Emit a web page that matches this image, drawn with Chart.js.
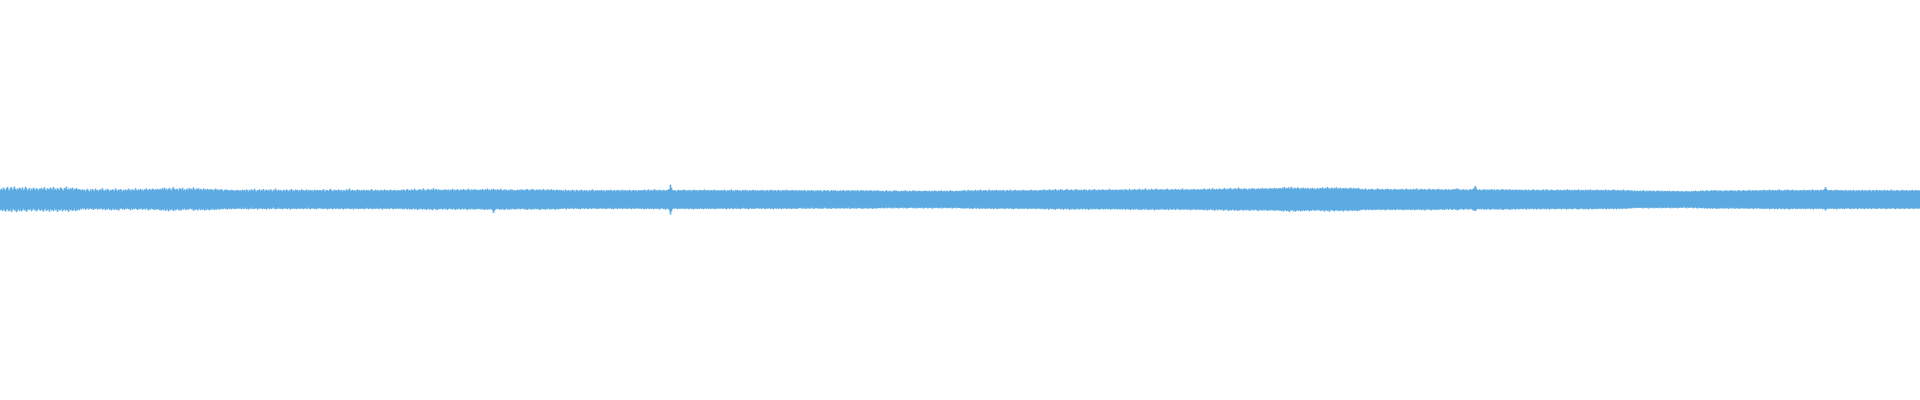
<!DOCTYPE html>
<html>
<head>
<meta charset="utf-8">
<style>
html,body{margin:0;padding:0;background:#ffffff;overflow:hidden;}
#wrap{width:1920px;height:400px;}
canvas{display:block;}
</style>
<script src="https://cdn.jsdelivr.net/npm/chart.js@4/dist/chart.umd.min.js"></script>
</head>
<body>
<div id="wrap"><canvas id="c" width="1920" height="400"></canvas></div>
<script>
// Waveform peaks (upper and lower envelope, amplitude in thousandths of full scale), one per pixel column
const peakHigh = [
47,53,45,58,50,44,55,61,49,42,56,60,46,52,63,51,44,54,48,57,53,47,59,45,50,62,54,43,49,56,41,52,47,58,51,45,55,49,44,53,
50,57,46,52,60,48,43,55,51,47,58,53,45,61,49,52,44,56,50,46,59,54,48,42,57,51,63,47,53,45,55,50,58,44,52,49,56,46,51,48,
48,41,50,44,47,38,46,52,43,37,49,42,51,45,40,53,44,47,39,46,50,43,55,45,41,48,44,52,47,39,46,43,50,45,42,54,46,40,48,44,
51,45,38,47,43,49,41,46,53,44,48,40,50,46,43,55,47,42,49,45,52,44,48,41,50,47,54,46,43,51,48,45,53,49,44,50,47,52,46,49,
52,45,55,49,58,46,53,44,51,57,48,43,54,60,50,47,52,49,42,55,51,46,57,44,50,41,49,53,45,56,48,52,47,59,50,44,53,48,55,46,
51,49,43,54,47,50,45,52,48,44,51,46,49,42,47,53,45,50,43,48,45,51,44,40,47,45,49,42,46,44,41,48,43,46,39,45,42,47,44,41,
45,39,48,43,46,40,49,44,37,47,42,50,41,45,52,43,38,46,44,49,40,47,43,51,39,45,48,42,46,40,50,44,37,47,43,53,44,41,48,42,
46,43,39,47,45,41,49,44,38,46,43,51,42,45,40,48,44,47,39,45,42,50,43,46,41,44,49,40,46,43,47,42,45,38,48,44,42,47,43,45,
46,41,44,50,43,38,47,45,40,46,52,42,44,39,48,43,46,41,49,44,42,47,38,45,44,40,50,43,46,53,44,41,47,42,45,39,44,49,43,46,
42,45,40,48,44,41,47,43,46,39,45,51,43,44,40,48,42,46,44,38,47,43,45,41,49,44,42,46,40,45,48,43,44,41,47,45,39,46,43,44,
43,47,42,49,45,40,47,51,43,46,41,49,46,43,53,45,42,47,44,50,45,48,43,54,46,41,48,45,52,46,43,50,46,55,44,48,51,43,49,46,
44,48,42,47,45,50,43,46,49,41,47,45,52,44,48,43,46,50,45,42,49,46,44,51,47,43,48,45,53,46,42,49,47,44,50,46,48,43,47,45,
48,44,51,46,42,50,46,53,44,48,41,50,46,52,45,48,43,50,46,44,52,47,42,46,49,44,48,41,46,43,50,45,48,42,46,41,45,48,43,47,
45,50,44,47,42,49,46,51,45,43,48,46,52,44,47,41,49,46,45,50,43,47,44,51,46,42,48,45,49,44,46,50,43,47,45,41,48,46,44,47,
43,46,40,45,38,48,43,41,46,39,44,42,48,40,45,37,47,43,39,45,41,48,43,39,46,41,44,43,38,46,41,45,49,43,39,45,41,46,42,44,
42,47,40,44,43,38,46,42,45,41,48,43,40,44,46,39,43,47,42,45,40,44,48,41,43,46,39,45,42,47,43,40,44,46,41,45,43,39,46,43,
45,41,46,43,48,44,39,46,49,42,44,47,41,45,50,43,46,40,44,48,42,45,39,47,44,41,46,43,49,52,72,57,46,42,45,43,39,44,47,42,
46,41,44,49,43,46,40,45,42,47,44,38,46,43,48,41,45,44,40,47,43,46,42,44,49,41,45,43,47,40,44,46,42,45,48,43,41,46,44,43,
43,46,41,44,48,42,39,45,41,46,43,49,40,44,38,46,43,47,41,44,43,39,46,44,41,48,42,44,38,46,43,41,47,44,42,46,39,45,41,43,
45,41,47,43,40,44,42,46,39,45,43,48,41,44,42,46,40,43,47,41,44,39,46,43,45,41,48,42,44,40,45,43,47,41,44,42,46,39,43,45,
42,45,40,43,47,41,38,45,42,44,39,46,41,44,38,43,41,46,40,43,45,41,37,43,46,40,42,45,43,38,41,46,40,44,42,45,38,43,40,42,
44,40,43,46,41,39,44,42,45,40,43,38,46,42,41,44,40,45,42,39,43,46,41,44,40,42,45,39,43,41,46,42,38,44,41,43,40,45,42,41,
41,38,43,40,36,42,44,39,38,43,40,36,42,39,45,40,43,38,41,37,40,43,38,42,40,45,38,41,36,43,40,38,42,44,39,43,38,41,40,43,
39,41,37,42,40,44,38,41,39,43,37,40,42,38,44,40,41,37,43,39,41,44,38,40,42,37,43,40,38,41,45,39,42,40,37,41,43,39,40,42,
42,39,44,41,46,42,38,44,47,40,42,45,39,43,41,47,40,43,45,41,48,43,40,45,42,46,43,39,44,48,41,43,46,40,45,42,47,41,44,43,
45,41,43,47,42,39,44,46,41,43,48,42,40,45,43,47,41,44,42,46,39,44,43,47,41,45,42,44,40,46,43,48,41,44,42,46,43,40,45,44,
46,42,47,44,49,45,41,47,43,50,45,42,48,44,46,51,45,42,47,43,50,45,48,41,46,44,52,45,48,43,46,49,44,42,48,45,51,46,43,47,
44,48,42,46,50,44,47,41,46,49,45,43,48,45,51,44,46,42,49,45,47,43,50,46,44,48,42,47,45,52,44,46,48,43,47,45,49,44,46,48,
46,49,44,48,43,51,46,47,44,52,46,42,49,46,51,47,44,49,46,53,47,44,50,46,48,54,47,43,50,47,45,52,48,45,50,47,53,48,45,49,
47,51,45,49,44,50,47,53,46,48,44,51,47,49,45,52,48,46,50,44,49,47,54,46,48,45,51,47,49,43,50,48,46,52,47,49,45,51,48,47,
48,51,46,50,54,48,45,51,49,53,46,49,55,47,51,46,52,49,47,54,50,46,52,49,56,50,47,53,49,52,57,50,47,53,50,55,48,52,58,52,
49,53,47,51,55,49,52,46,50,54,48,51,56,49,53,47,52,50,55,48,53,51,57,49,52,55,50,54,48,53,56,51,54,49,57,52,55,50,53,56,
55,51,58,53,61,50,56,53,60,51,55,62,53,50,58,54,51,59,56,53,48,57,53,58,51,55,49,57,53,48,55,51,57,50,54,47,52,56,49,53,
56,52,59,54,50,57,53,61,52,55,49,58,54,51,57,53,60,50,55,52,58,49,54,56,51,57,53,50,55,52,58,54,49,56,52,55,51,53,57,50,
51,47,52,46,49,54,48,45,51,49,46,53,48,50,44,49,47,54,48,51,46,49,52,47,44,51,48,53,49,46,51,48,44,49,52,47,50,46,49,48,
50,46,52,48,45,50,53,47,49,44,51,48,46,52,49,47,54,48,45,50,47,52,49,46,51,48,44,50,47,53,48,46,49,51,47,45,50,48,52,47,
47,50,45,48,43,51,47,45,50,47,44,49,46,51,47,50,54,49,52,47,44,48,46,50,47,44,49,46,42,48,50,46,49,53,58,66,52,47,45,49,
46,44,48,45,50,47,43,49,46,48,44,51,47,45,49,43,47,50,46,44,48,45,51,47,43,49,46,48,44,50,47,45,48,43,46,49,45,47,44,48,
45,48,43,46,42,49,45,43,48,45,41,47,44,50,45,42,47,44,48,45,40,47,44,49,42,45,50,43,47,42,45,48,44,46,41,45,44,49,42,45,
47,43,46,41,48,45,43,50,44,46,42,47,45,41,48,44,46,43,49,45,42,47,44,46,40,48,45,43,47,44,49,42,46,45,41,47,44,48,43,45,
44,47,42,46,40,49,44,42,47,44,41,46,43,49,44,45,41,47,44,42,46,40,44,48,43,39,45,42,46,43,40,45,42,38,44,41,37,43,40,41,
43,39,42,45,40,37,43,41,39,44,40,42,38,43,41,36,42,40,44,38,41,39,43,37,40,42,38,41,39,43,36,40,42,38,41,39,37,42,40,38,
38,41,37,40,36,39,42,37,40,38,35,41,37,42,39,43,40,37,41,38,43,40,44,41,38,42,45,41,43,39,42,45,41,43,46,42,44,40,43,42,
44,40,43,38,42,45,41,43,39,44,41,46,42,40,44,42,38,43,45,41,44,39,42,46,41,43,40,44,42,47,43,40,45,42,44,41,46,43,40,44,
44,41,46,43,47,44,40,46,43,48,44,41,47,44,42,46,41,47,44,49,42,45,41,44,47,43,45,49,43,46,42,45,48,44,41,46,43,45,40,44,
46,42,45,43,48,41,44,46,43,47,42,44,49,45,41,46,43,47,44,42,45,48,43,46,51,60,52,45,42,46,43,47,41,44,46,43,48,42,45,44,
43,46,41,44,40,47,43,41,45,40,46,43,41,47,43,40,44,42,46,43,40,44,47,41,43,46,40,44,42,47,43,40,45,46,41,43,47,44,41,46,
42,45,39,44,47,41,43,46,40,44,42,48,43,41,45,39,44,46,42,43,40,45,47,42,44,41,46,43,39,45,42,44,47,41,43,46,42,45,43,44
];
const peakLow = [
52,48,56,45,53,59,50,46,57,54,47,61,51,44,55,49,62,53,46,56,48,58,51,43,54,50,60,52,47,51,45,57,50,42,53,48,58,51,44,50,
55,47,52,59,49,45,56,51,48,60,46,53,50,57,44,52,49,61,47,54,51,45,58,50,47,55,49,52,60,46,53,48,56,51,44,57,50,53,47,52,
43,48,42,47,40,50,45,42,49,44,39,47,44,51,42,46,40,49,44,47,45,42,50,46,43,52,45,48,41,50,46,53,43,48,51,44,50,46,54,47,
45,41,48,44,50,43,46,39,47,45,52,42,49,44,47,40,46,51,43,48,45,42,50,46,44,49,41,47,53,45,49,43,48,46,51,44,50,47,45,52,
49,54,47,52,45,56,50,47,58,49,52,45,50,56,47,53,49,44,52,47,55,49,45,50,43,48,52,44,49,46,42,48,45,55,47,51,46,53,49,44,
52,47,50,45,54,48,51,44,49,53,46,50,43,48,52,45,49,47,44,50,46,43,48,45,41,47,44,49,42,46,43,48,40,45,47,42,46,44,41,45,
42,47,40,46,44,38,47,42,49,41,44,46,38,47,43,44,41,49,42,46,39,44,47,41,46,43,49,39,44,47,41,46,43,37,44,48,41,46,39,44,
46,42,48,44,40,45,43,47,41,44,49,42,46,40,45,43,48,41,44,46,39,45,42,47,43,41,46,44,38,45,47,42,44,40,46,43,48,42,44,41,
44,42,47,41,46,44,39,49,43,46,41,44,48,43,39,46,44,41,47,43,46,39,44,49,41,46,43,44,40,47,43,46,41,49,44,42,46,40,47,44,
43,46,41,45,48,42,44,39,47,43,45,41,48,44,42,46,39,45,43,47,41,44,49,42,45,40,46,44,42,47,43,41,45,48,42,44,46,40,45,43,
45,42,48,44,47,40,45,49,42,47,44,50,45,42,48,46,43,51,45,48,42,46,49,43,48,45,51,46,43,49,45,48,52,46,43,49,46,51,44,47,
46,43,49,45,42,48,44,50,46,41,47,45,49,43,46,51,44,48,45,42,50,46,44,48,43,47,45,52,44,46,49,43,47,45,50,44,48,46,43,47,
46,49,44,48,51,45,47,50,45,49,44,48,52,66,55,48,45,47,43,50,46,49,44,48,51,46,43,49,46,50,44,48,43,46,49,44,48,42,46,44,
48,45,42,47,44,49,46,51,44,47,43,50,46,45,48,42,47,44,49,46,51,45,43,48,46,50,44,47,42,49,45,48,46,43,47,50,44,46,48,45,
45,41,46,43,39,45,48,41,43,46,40,44,41,47,43,39,45,42,46,43,48,41,44,40,46,43,41,45,47,40,43,46,41,44,39,43,47,42,45,43,
41,44,46,40,43,47,42,45,39,44,41,46,43,48,40,44,42,46,39,45,43,41,47,42,44,40,46,43,45,39,44,47,41,43,46,42,44,40,45,43,
43,46,41,45,48,42,46,40,44,47,43,46,41,48,44,43,46,40,45,49,42,44,41,47,43,50,45,42,46,54,74,58,47,42,45,41,44,47,43,45,
42,46,44,40,47,43,45,41,48,44,42,46,43,49,41,45,44,47,42,46,40,45,43,48,44,41,46,43,45,40,47,44,42,46,43,48,41,44,45,43,
44,41,46,43,39,45,48,43,41,46,43,40,44,47,41,43,46,40,45,43,47,41,44,39,43,46,41,44,48,43,40,45,42,46,43,45,41,40,45,43,
42,46,43,40,44,47,41,45,43,39,46,42,44,48,41,43,45,40,46,43,42,47,41,44,43,39,46,44,42,45,41,47,43,44,40,46,42,45,43,41,
40,44,42,45,39,43,46,40,42,45,43,38,42,46,40,43,42,39,45,42,44,40,46,42,38,43,41,45,42,44,40,46,42,39,43,42,45,40,43,42,
44,40,43,39,45,42,41,44,38,43,46,41,42,44,40,43,45,39,42,41,44,40,46,42,43,39,44,41,45,42,40,43,46,41,42,44,39,43,41,42,
40,43,38,41,44,40,37,43,40,38,41,44,38,40,43,37,41,40,44,38,41,40,37,43,38,41,44,40,42,38,41,37,40,43,38,41,44,40,39,41,
42,38,40,44,39,41,37,43,40,42,38,41,45,39,40,42,37,41,43,39,40,44,38,42,40,37,41,43,39,40,42,38,44,40,41,37,43,39,41,40,
41,44,40,42,45,40,43,42,39,45,43,41,46,42,43,40,45,42,39,46,43,42,45,40,43,46,42,44,43,40,46,44,41,47,43,42,45,46,43,44,
42,45,41,43,47,42,44,40,45,43,41,46,43,48,42,44,41,45,43,47,40,44,46,42,45,43,41,47,44,42,46,43,45,41,44,47,42,45,43,44,
44,47,42,45,49,44,46,42,50,45,44,47,42,49,45,50,43,46,45,42,48,46,44,50,45,42,48,46,43,51,45,48,44,46,50,45,48,43,46,49,
46,43,48,45,42,49,46,44,51,45,47,43,49,45,44,48,42,47,46,50,44,46,43,49,45,47,42,48,46,44,50,45,47,43,48,46,44,49,45,47,
48,44,49,46,43,51,47,44,49,46,52,47,44,50,46,49,44,47,51,46,49,52,45,47,50,44,49,46,52,48,47,50,45,48,53,47,50,45,51,48,
46,49,44,48,51,46,49,45,52,47,44,50,47,48,45,51,47,43,49,46,52,48,45,50,47,49,44,51,46,48,53,47,50,45,49,47,52,46,48,50,
50,46,51,48,53,49,46,54,48,51,45,49,52,47,55,50,47,53,49,46,52,50,47,55,49,52,47,50,56,49,52,53,47,50,55,51,48,56,51,54,
48,52,49,55,47,51,53,48,50,56,49,52,47,54,50,48,53,51,57,49,52,50,55,48,53,51,49,56,52,50,54,48,53,51,56,50,54,52,49,55,
53,56,51,59,54,50,57,53,56,61,51,54,50,58,53,59,54,51,56,50,58,53,55,49,56,51,55,50,53,58,51,55,48,53,50,56,51,49,54,50,
57,52,55,50,59,53,51,56,53,60,52,49,55,53,58,51,54,50,57,53,56,51,54,59,52,50,55,53,57,50,54,52,56,49,55,53,51,57,52,54,
49,52,47,50,46,53,49,47,52,46,50,48,53,49,46,52,48,50,49,45,52,48,51,46,49,53,47,50,45,49,52,47,51,46,49,52,48,45,50,49,
47,51,48,53,46,49,51,47,50,44,52,48,50,46,53,49,47,51,45,50,48,52,47,49,54,46,50,48,45,51,49,53,47,50,46,52,48,49,51,47,
48,45,50,47,51,45,48,44,50,47,45,49,51,47,44,50,48,53,50,45,48,44,47,50,45,48,43,47,50,44,47,46,49,55,52,56,49,46,44,48,
45,48,43,47,50,45,49,46,44,48,51,46,47,43,49,47,45,50,46,48,44,49,47,51,45,48,46,44,49,47,50,45,48,43,47,49,46,44,48,47,
46,43,48,45,42,47,49,43,45,48,43,46,42,48,45,43,49,45,42,47,45,48,42,45,47,43,48,42,45,49,43,46,45,42,48,44,47,45,42,46,
44,48,42,46,45,43,49,44,47,42,46,45,48,43,45,41,47,45,49,43,46,44,42,48,45,47,43,46,49,44,42,47,45,48,43,46,44,47,42,45,
45,42,47,44,41,46,48,42,44,47,42,45,41,47,44,42,48,44,41,46,44,42,47,41,44,42,46,43,40,44,41,43,39,42,40,38,42,39,41,39,
41,38,43,40,42,37,41,39,44,40,38,42,40,37,43,39,41,38,42,40,37,43,39,41,38,42,40,36,41,39,43,38,40,42,37,41,39,43,38,40,
39,37,41,38,36,40,43,37,39,41,37,40,38,43,40,37,41,44,38,41,40,43,41,38,44,41,42,45,39,42,44,41,45,42,39,43,46,42,44,43,
41,44,40,42,45,39,43,41,46,42,40,44,42,38,45,43,41,44,40,46,42,43,39,44,41,45,43,40,46,42,44,41,43,47,42,40,45,43,41,44,
42,46,44,41,47,43,45,44,41,48,43,46,44,41,47,45,42,48,44,41,45,47,42,44,48,45,42,46,44,49,45,42,47,44,41,46,43,47,42,45,
44,47,42,45,43,48,41,46,44,42,47,43,45,49,42,44,46,41,47,43,45,42,48,44,46,53,47,43,46,42,45,44,41,47,43,45,48,42,44,45,
44,41,46,43,47,41,44,43,40,46,43,47,41,44,46,40,43,47,44,41,43,46,41,44,47,43,40,46,43,44,41,47,43,40,45,42,46,43,44,41,
43,46,42,44,40,47,43,45,41,44,46,42,43,40,45,47,43,41,44,46,42,45,39,44,47,43,41,45,42,46,44,40,43,46,42,44,41,45,43,44
];
const yMin = -1, yMax = 1;

const n = Math.min(peakHigh.length, peakLow.length);
const labels = [];
const bars = [];
for (let i = 0; i < n; i++) {
  labels.push(i);
  bars.push([-peakLow[i] / 1000, peakHigh[i] / 1000]);
}

new Chart(document.getElementById('c'), {
  type: 'bar',
  data: {
    labels: labels,
    datasets: [{
      data: bars,
      backgroundColor: 'rgb(93,171,226)',
      borderWidth: 0,
      barPercentage: 1,
      categoryPercentage: 1,
      borderSkipped: false
    }]
  },
  options: {
    responsive: false,
    animation: false,
    events: [],
    layout: { padding: { left: 0, right: 0, top: 0, bottom: 1 } },
    plugins: { legend: { display: false }, tooltip: { enabled: false } },
    scales: {
      x: { display: false, offset: true, grid: { display: false } },
      y: { display: false, min: yMin, max: yMax, grid: { display: false } }
    }
  }
});
</script>
</body>
</html>
